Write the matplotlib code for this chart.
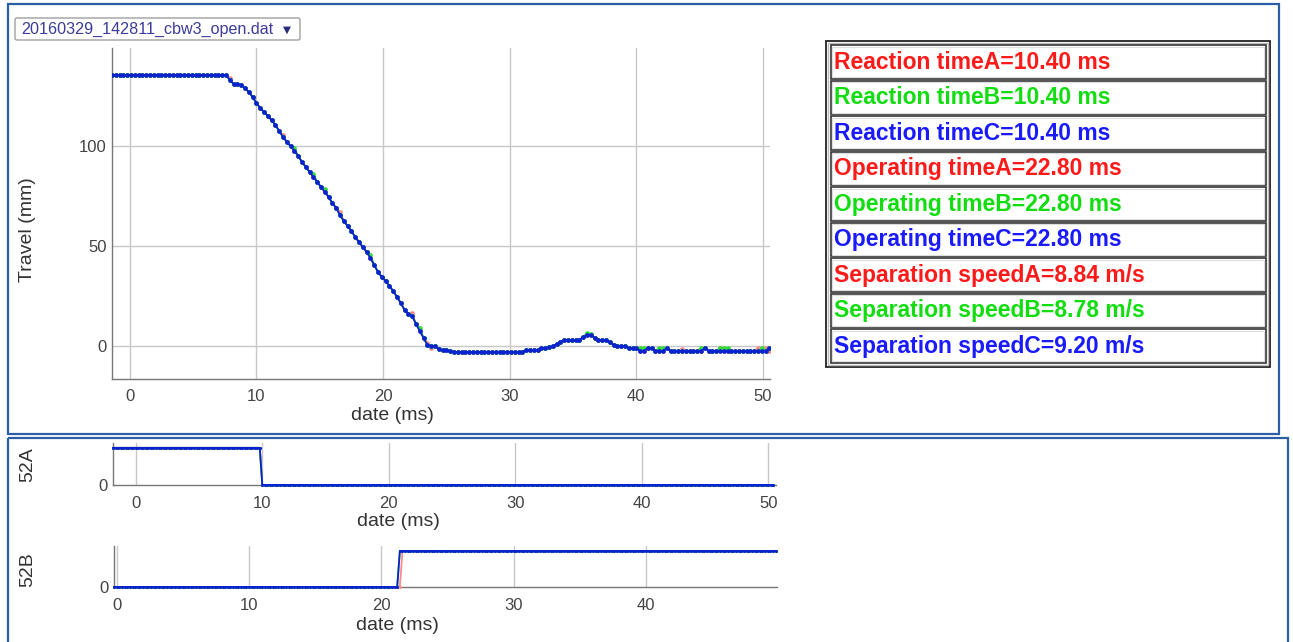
import numpy as np
import matplotlib
matplotlib.use("Agg")
import matplotlib.pyplot as plt
from matplotlib.patches import Rectangle, FancyBboxPatch

plt.rcParams['font.family'] = ['Liberation Sans', 'DejaVu Sans']

# ---------------- data ----------------
file_name = "20160329_142811_cbw3_open.dat"

# travel curve, sampled every 0.3 ms starting at -1.4 ms
t_start, t_step = -1.4, 0.3
travel_c = ([135.5] * 31 +
            [133, 131, 131, 130.5, 129, 127, 124.5, 121.5, 119, 117,
             115, 113, 110.5, 107.5, 104.5, 102, 100, 97.5, 95, 92,
             89.5, 87, 84.5, 82, 79.5, 77, 74.5, 71.5, 69, 65.5,
             62.5, 60, 57.5, 54.5, 52, 49.5, 47, 44, 40.5, 37,
             34.5, 32.5, 30, 27.5, 24.5, 21.5, 18, 16, 15, 11,
             7.5, 4, 0.5, 0, 0, -1.5, -2, -2, -2.5] +
            [-3] * 19 +
            [-2] * 4 +
            [-1, -1, -0.5, 0, 1, 2, 3, 3, 3, 3, 3, 4.5, 5.5, 5.5, 4, 3, 3, 3, 2, 0.5,
             0, 0, 0, -1, -1, -1] +
            [-2.5, -2.5, -1, -1, -2.5, -2.5, -2.5, -1, -2.5, -2.5,
             -2.5, -2.5, -2.5, -2.5, -2.5, -2.5, -2.5, -1, -2.5, -2.5,
             -2.5, -2.5, -2.5, -2.5, -2.5, -2.5, -2.5, -2.5, -2.5, -2.5,
             -2.5, -2.5, -2.5, -2.5, -1])
# phases A and B only differ from C at a few samples
diff_a = {31: 134, 45: 105.5, 60: 67, 79: 16.5, 83: 1.5, 84: -1,
          150: -1.5, 160: -1, 170: -1, 172: -1, 173: -2.5}
diff_b = {48: 99, 53: 86, 56: 78.5, 68: 45.5, 81: 9, 125: 6.5, 126: 6,
          139: -1, 140: -1, 144: -1, 145: -1, 155: -1, 156: -1,
          160: -1, 161: -1, 162: -1, 171: -1}

# auxiliary contacts: level 1 = closed
a52_range = (-1.8, 50.6)
a52_open_ms = 9.9
b52_range = (-0.2, 49.9)
b52_close_ms_c = 21.3
b52_close_ms_a = 21.5
aux_step = 0.2

results = [
    ("Reaction timeA=10.40 ms", "A"),
    ("Reaction timeB=10.40 ms", "B"),
    ("Reaction timeC=10.40 ms", "C"),
    ("Operating timeA=22.80 ms", "A"),
    ("Operating timeB=22.80 ms", "B"),
    ("Operating timeC=22.80 ms", "C"),
    ("Separation speedA=8.84 m/s", "A"),
    ("Separation speedB=8.78 m/s", "B"),
    ("Separation speedC=9.20 m/s", "C"),
]

text_colors = {'A': '#ff1a1a', 'B': '#11dd11', 'C': '#1a1aff'}
line_colors = {'A': '#ff8a8a', 'B': '#33dd33', 'C': '#0a22d0'}

# ---------------- figure ----------------
W, H = 1293, 642
fig = plt.figure(figsize=(W / 100, H / 100), dpi=100)


def px_axes(left, top, right, bottom, **kw):
    return fig.add_axes([left / W, 1 - bottom / H, (right - left) / W, (bottom - top) / H], **kw)


# page decoration (pixel coordinates)
bg = fig.add_axes([0, 0, 1, 1])
bg.set_xlim(0, W)
bg.set_ylim(H, 0)
bg.axis('off')
panel_col = '#2a5fa5'
bg.add_patch(Rectangle((8, 4), 1271, 430, fill=False, ec=panel_col, lw=1.6))
bg.add_patch(Rectangle((8, 438), 1280, 210, fill=False, ec=panel_col, lw=1.6, clip_on=False))
bg.add_patch(FancyBboxPatch((15, 18), 285, 22, boxstyle="round,pad=0,rounding_size=2",
                            fc='white', ec='#a0a0a0', lw=1))
bg.text(21, 29.5, file_name, color='#3b3b9a', fontsize=11.6, va='center')
bg.text(283, 29.5, "\u25bc", color='#2a2a7a', fontsize=7.5, va='center',
        family=['DejaVu Sans'])

# results table
bg.add_patch(Rectangle((826, 41), 444, 326, fill=False, ec='#222222', lw=1.3))
bg.add_patch(Rectangle((828, 43), 440, 322, fill=False, ec='#bbbbbb', lw=1))
row_h = 35.5
for i, (label, ph) in enumerate(results):
    top = 45 + i * row_h
    bg.add_patch(Rectangle((830.5, top), 435, row_h - 2, fill=False, ec='#333333', lw=1.2))
    bg.add_patch(Rectangle((832, top + 1.5), 432, row_h - 5, fill=False, ec='#dddddd', lw=0.8))
    bg.text(834, top + (row_h - 2) / 2 + 0.5, label, color=text_colors[ph], fontsize=16.5,
            fontweight='bold', va='center', ha='left')

tick_col = '#444444'
label_col = '#333333'
grid_col = '#c8c8c8'


def style(ax):
    for s in ('top', 'right'):
        ax.spines[s].set_visible(False)
    for s in ('left', 'bottom'):
        ax.spines[s].set_color('#777777')
        ax.spines[s].set_linewidth(1)
    ax.tick_params(length=0, colors=tick_col, labelsize=12, pad=5)
    ax.grid(True, color=grid_col, lw=1)
    ax.set_axisbelow(True)


def place_labels(ax, left, bottom, w, h, xlab_x, xlab_top, ylab_right, ylab_y):
    # label positions given in page pixels, converted to axes fractions
    ax.xaxis.set_label_coords((xlab_x - left) / w, -(xlab_top - bottom) / h)
    ax.yaxis.set_label_coords(-(left - ylab_right) / w, (bottom - ylab_y) / h)


# ---------------- travel chart ----------------
t = np.round(t_start + t_step * np.arange(len(travel_c)), 2)
c = np.array(travel_c, dtype=float)
a = c.copy()
for k, v in diff_a.items():
    a[k] = v
b = c.copy()
for k, v in diff_b.items():
    b[k] = v

ax = px_axes(112, 48, 770, 379)
style(ax)
ax.tick_params(axis='y', pad=4)
ax.tick_params(axis='x', pad=7)
for ph, y in (('A', a), ('B', b), ('C', c)):
    ax.plot(t, y, color=line_colors[ph], lw=1.3, marker='o', ms=3.4, mew=0, zorder=3)
ax.set_xlim(-1.4, 50.55)
ax.set_ylim(-16.5, 149)
ax.set_xticks([0, 10, 20, 30, 40, 50])
ax.set_yticks([0, 50, 100])
ax.set_xlabel("date (ms)", fontsize=14, color=label_col)
ax.set_ylabel("Travel (mm)", fontsize=14, color=label_col)
place_labels(ax, 112, 379, 658, 331, 392, 407, 36, 230)

# ---------------- 52A ----------------
ta = np.round(np.arange(a52_range[0], a52_range[1], aux_step), 2)
ya = np.where(ta < a52_open_ms, 1, 0)
ax_a = px_axes(113, 443, 776, 485)
style(ax_a)
ax_a.grid(axis='y', visible=False)
ax_a.tick_params(axis='x', pad=8)
ax_a.tick_params(axis='y', pad=4)
for ph in ('A', 'B', 'C'):
    ax_a.plot(ta, ya, color=line_colors[ph], lw=1.3, marker='o', ms=2.2, mew=0, clip_on=False, zorder=3)
ax_a.set_xlim(*a52_range)
ax_a.set_ylim(0, 1.13)
ax_a.set_xticks([0, 10, 20, 30, 40, 50])
ax_a.set_yticks([0])
ax_a.set_xlabel("date (ms)", fontsize=14, color=label_col)
ax_a.set_ylabel("52A", fontsize=14, color=label_col)
place_labels(ax_a, 113, 485, 663, 42, 398, 513, 36, 465)

# ---------------- 52B ----------------
tb = np.round(np.arange(b52_range[0], b52_range[1], aux_step), 2)
yb_c = np.where(tb < b52_close_ms_c, 0, 1)
yb_a = np.where(tb < b52_close_ms_a, 0, 1)
ax_b = px_axes(114, 546, 777, 587)
style(ax_b)
ax_b.grid(axis='y', visible=False)
ax_b.tick_params(axis='x', pad=8)
ax_b.tick_params(axis='y', pad=4)
ax_b.plot(tb, yb_a, color=line_colors['A'], lw=1.3, marker='o', ms=2.2, mew=0, clip_on=False, zorder=3)
ax_b.plot(tb, yb_c, color=line_colors['B'], lw=1.3, marker='o', ms=2.2, mew=0, clip_on=False, zorder=3)
ax_b.plot(tb, yb_c, color=line_colors['C'], lw=1.3, marker='o', ms=2.2, mew=0, clip_on=False, zorder=3)
ax_b.set_xlim(*b52_range)
ax_b.set_ylim(0, 1.14)
ax_b.set_xticks([0, 10, 20, 30, 40])
ax_b.set_yticks([0])
ax_b.set_xlabel("date (ms)", fontsize=14, color=label_col)
ax_b.set_ylabel("52B", fontsize=14, color=label_col)
place_labels(ax_b, 114, 587, 663, 41, 397, 617, 36, 570)

fig.savefig("out.png", dpi=100)
